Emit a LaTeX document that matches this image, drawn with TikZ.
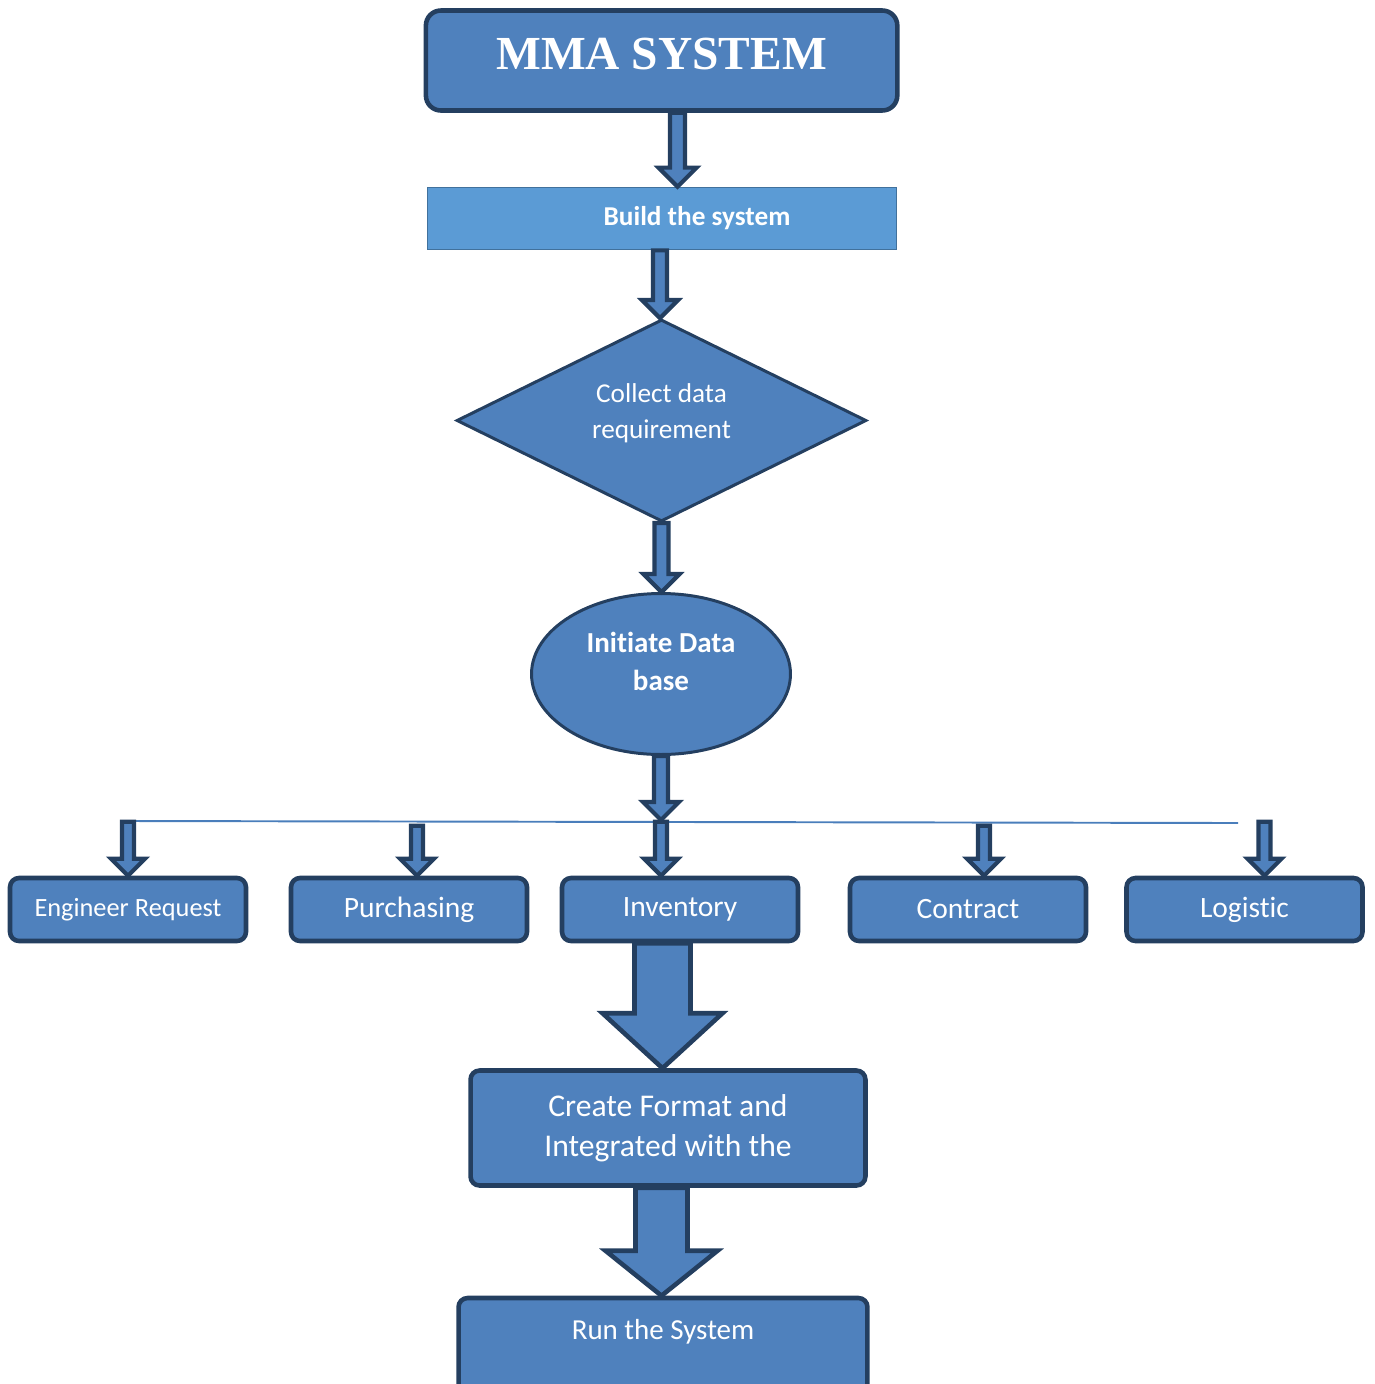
\documentclass[tikz,border=0pt]{standalone}
\usepackage{fontspec}
\setmainfont{Carlito}[Ligatures=NoCommon]
\newfontfamily\titlefont{Liberation Serif}
\usetikzlibrary{shapes.geometric,calc}

\definecolor{boxblue}{HTML}{4F81BD}
\definecolor{boxline}{HTML}{243F60}
\definecolor{buildblue}{HTML}{5B9BD5}
\definecolor{buildline}{HTML}{41719C}
\definecolor{busblue}{HTML}{4A7EBB}

% block arrow: [style]{start}{end}{shaft half}{head half}{head length}
\newcommand{\blockarr}[6][]{%
  \path (#2) coordinate (ba-s) (#3) coordinate (ba-t);
  \coordinate (ba-e) at (ba-s |- ba-t);
  \draw[blockarrow,#1] ($(ba-s)+(-#4,0)$) -- ($(ba-e)+(-#4,-#6)$) -- ($(ba-e)+(-#5,-#6)$)
    -- (ba-e) -- ($(ba-e)+(#5,-#6)$) -- ($(ba-e)+(#4,-#6)$) -- ($(ba-s)+(#4,0)$) -- cycle;
}

\begin{document}
\begin{tikzpicture}[x=0.02cm, y=-0.02cm,
    box/.style={draw=boxline, fill=boxblue, line width=2.6pt, rounded corners=0.18cm, text=white, align=center},
    rowbox/.style={box, minimum width=4.72cm, minimum height=1.26cm, font=\fontsize{16.8}{20}\selectfont},
    blockarrow/.style={draw=boxline, fill=boxblue, line width=2.4pt},
    bigarrow/.style={line width=2.6pt},
    bus/.style={draw=busblue, line width=1.1pt}]
    \useasboundingbox (0,0) rectangle (1374,1384);
    \clip (0,0) rectangle (1374,1384);

    % Top of the chart
    \node[box, minimum width=9.43cm, minimum height=2cm, rounded corners=0.3cm, text height=0.66cm, text depth=0.3cm,
          font=\titlefont\bfseries\fontsize{27}{30}\selectfont] (title) at (661.6,60.5) {MMA SYSTEM};
    \node[draw=buildline, fill=buildblue, line width=1pt, text=white, minimum width=9.38cm, minimum height=1.24cm,
          font=\bfseries\fontsize{15.5}{18}\selectfont] (build) at (662,218.5) {\hspace*{1.4cm}Build the system};
    \node[diamond, aspect=2, draw=boxline, fill=boxblue, line width=1.7pt, minimum width=8.2cm, minimum height=4.04cm,
          text=white, align=center, text height=1.1cm, text depth=0.4cm,
          font=\fontsize{15.5}{20.4}\selectfont] (collect) at (661.5,420.5) {Collect data\\requirement};
    \node[ellipse, draw=boxline, fill=boxblue, line width=1.7pt, minimum width=5.18cm, minimum height=3.22cm,
          text=white, align=center, text height=1.2cm, text depth=0.54cm,
          font=\bfseries\fontsize{16.5}{21.5}\selectfont] (initdb) at (661,674) {Initiate Data\\base};

    % Modules
    \node[rowbox, font=\fontsize{15}{18}\selectfont] (engreq) at (128,909.5) {Engineer Request};
    \node[rowbox] (purch) at (409,909.5) {Purchasing};
    \node[rowbox] (inv) at (680,909.5) {Inventory};
    \node[rowbox] (contract) at (968,909.5) {Contract};
    \node[rowbox] (logistic) at (1244.5,909.5) {Logistic};

    % Bottom of the chart
    \node[box, minimum width=7.9cm, minimum height=2.3cm, font=\fontsize{18}{23}\selectfont] (format) at (668,1128) {Create Format and\\Integrated with the};
    \node[box, minimum width=8.18cm, minimum height=1.94cm, text height=0.36cm, text depth=0.66cm,
          font=\fontsize{16.5}{20}\selectfont] (run) at (663,1346.5) {Run the System};

    % Bus line
    \coordinate (busL) at (128,821);
    \coordinate (busR) at (1238,823);
    \coordinate (bus) at (661,820);
    \draw[bus] (busL) -- (busR);

    % Arrows
    \blockarr{$(title.south)+(16,0)$}{build.north}{7.5}{19}{19}
    \blockarr{$(build.south)+(-2,0)$}{collect.north}{7}{18}{18}
    \blockarr{collect.south}{initdb.north}{7}{18}{18}
    \blockarr{initdb.south}{bus}{7}{18}{18}
    \blockarr{$(engreq.north)+(0,-54)$}{engreq.north}{6}{17}{17}
    \blockarr{$(purch.north)+(8,-50)$}{purch.north}{6}{17}{17}
    \blockarr{$(inv.north)+(-19,-54)$}{inv.north}{6}{17}{17}
    \blockarr{$(contract.north)+(16,-50)$}{contract.north}{6}{17}{17}
    \blockarr{$(logistic.north)+(20,-54)$}{logistic.north}{6}{17}{17}
    \blockarr[bigarrow]{$(inv.south)+(-17.5,0)$}{format.north}{28}{60}{55}
    \blockarr[bigarrow]{$(format.south)+(-6.5,0)$}{run.north}{26}{56}{45}
\end{tikzpicture}
\end{document}
